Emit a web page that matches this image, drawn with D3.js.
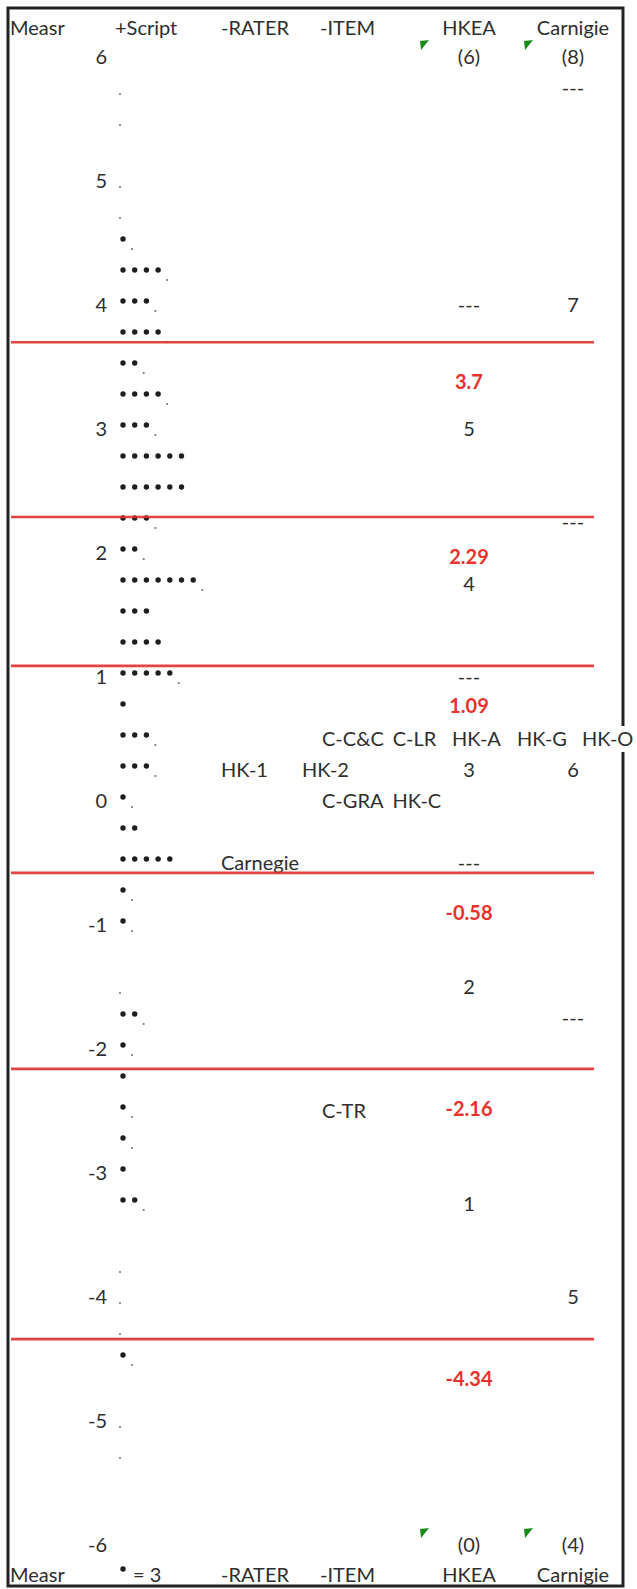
<!DOCTYPE html>
<html>
<head>
<meta charset="utf-8">
<script src="https://cdn.jsdelivr.net/npm/d3@7"></script>
<style>
  html, body { margin: 0; padding: 0; background: #fff; }
  svg { display: block; }
  text { font-family: Lato, "Open Sans", sans-serif; }
</style>
</head>
<body>
<svg id="map" width="637" height="1589"></svg>
<script>
// Wright map (FACETS vertical ruler): scripts, raters, items and the two rating scales

// measure axis tick labels
const measureTicks = [6, 5, 4, 3, 2, 1, 0, -1, -2, -3, -4, -5, -6];

// script distribution: measure of each ruler row and number of scripts in it (* = 3)
const scriptMeasure = [5.75, 5.5, 5, 4.75, 4.5, 4.25, 4, 3.75, 3.5, 3.25, 3, 2.75, 2.5, 2.25, 2,
  1.75, 1.5, 1.25, 1, 0.75, 0.5, 0.25, 0, -0.25, -0.5, -0.75, -1, -1.5, -1.75, -2,
  -2.25, -2.5, -2.75, -3, -3.25, -3.75, -4, -4.25, -4.5, -5, -5.25];
const scriptCount = [1, 1, 1, 1, 4, 13, 10, 13, 7, 13, 10, 18, 18, 10, 7,
  22, 9, 12, 16, 3, 10, 10, 4, 6, 15, 4, 4, 1, 7, 4,
  3, 4, 4, 3, 7, 1, 1, 1, 4, 1, 1];

// raters
const raterNames = ["HK-1", "HK-2", "Carnegie"];
const raterMeasure = [0.25, 0.25, -0.5];

// items
const itemNames = ["C-C&C", "C-LR", "HK-A", "HK-G", "HK-O", "C-GRA", "HK-C", "C-TR"];
const itemMeasure = [0.5, 0.5, 0.5, 0.5, 0.5, 0, 0, -2.5];

// HKEA rating scale: category labels, their rows, and threshold separators
const hkeaCats = ["(6)", "5", "4", "3", "2", "1", "(0)"];
const hkeaCatMeasure = [6, 3, 1.75, 0.25, -1.5, -3.25, -6];
const hkeaSepMeasure = [4, 1, -0.5];
// HKEA category thresholds (red lines)
const hkeaThresholds = [3.7, 2.29, 1.09, -0.58, -2.16, -4.34];

// Carnigie rating scale
const carnCats = ["(8)", "7", "6", "5", "(4)"];
const carnCatMeasure = [6, 4, 0.25, -4, -6];
const carnSepMeasure = [5.75, 2.25, -1.75];

// column headings
const headTop = ["Measr", "+Script", "-RATER", "-ITEM", "HKEA", "Carnigie"];
const headBottom = ["Measr", "= 3", "-RATER", "-ITEM", "HKEA", "Carnigie"];

const FS = 20;
const ink = "#2e2e2e";
const svg = d3.select("#map");

// vertical logit scale: each ruler row is a quarter logit
const y = d3.scaleLinear().domain([6, -6]).range([57, 1545]);
const BASE = 7; // baseline offset from a row's visual centre

// column anchors
const col = { measr: 107, script: 123, rater: 221, item: 322, hkea: 469, carn: 573 };
const starStep = 11.7;

// frame
svg.append("rect")
  .attr("x", 8).attr("y", 8).attr("width", 615).attr("height", 1578)
  .attr("fill", "#fff").attr("stroke", "#222").attr("stroke-width", 3);

// measure ruler numbers
svg.append("g").selectAll("text").data(measureTicks).join("text")
  .attr("x", col.measr).attr("y", d => y(d) + BASE)
  .attr("text-anchor", "end").attr("font-size", FS).attr("fill", ink)
  .text(d => d);

// scripts: one dot per 3 scripts, a small point for a remainder
const scripts = scriptMeasure.map((m, i) => ({ m, n: scriptCount[i] }));
const gS = svg.append("g");
scripts.forEach(r => {
  const stars = Math.floor(r.n / 3);
  gS.selectAll(null).data(d3.range(stars)).join("circle")
    .attr("cx", k => col.script + k * starStep)
    .attr("cy", y(r.m) - 4)
    .attr("r", 2.7).attr("fill", "#1e1e1e");
  if (r.n % 3 > 0) {
    gS.append("circle")
      .attr("cx", stars ? col.script + (stars - 1) * starStep + 9 : col.script - 3)
      .attr("cy", y(r.m) + 6)
      .attr("r", 1.1).attr("fill", "#777");
  }
});

// labels sharing a row sit in successive fixed-width slots, never overlapping
function slotRow(names, measures, x0, pitch, backed) {
  const g = svg.append("g");
  const rows = d3.group(names.map((n, i) => ({ n, m: measures[i] })), d => d.m);
  rows.forEach((list, m) => {
    let end = -Infinity;
    list.forEach((d, k) => {
      const x = Math.max(x0 + k * pitch, end + 9);
      const t = g.append("text")
        .attr("x", x).attr("y", y(m) + BASE)
        .attr("font-size", FS).attr("fill", ink).text(d.n);
      const w = t.node().getComputedTextLength();
      end = x + w;
      if (backed) {
        g.insert("rect", "text")
          .attr("x", x - 2).attr("y", y(m) - 13).attr("width", w + 4).attr("height", 26)
          .attr("fill", "#fff");
      }
    });
  });
}
slotRow(raterNames, raterMeasure, col.rater, 81, false);
slotRow(itemNames, itemMeasure, col.item, 65, true);

// rating scale columns
function scaleColumn(cx, cats, catM, sepM) {
  const g = svg.append("g").attr("font-size", FS).attr("fill", ink).attr("text-anchor", "middle");
  g.selectAll("text.cat").data(cats).join("text").attr("class", "cat")
    .attr("x", cx).attr("y", (d, i) => y(catM[i]) + BASE).text(d => d);
  g.selectAll("text.sep").data(sepM).join("text").attr("class", "sep")
    .attr("x", cx).attr("y", d => y(d) + BASE).text("---");
  // green marker at the extreme categories
  g.selectAll("path").data([catM[0], catM[catM.length - 1]]).join("path")
    .attr("d", d => {
      const x0 = cx - 49, y0 = y(d) - 16;
      return `M${x0},${y0}L${x0 + 9},${y0 - 1}L${x0 + 1},${y0 + 9}Z`;
    })
    .attr("fill", "#1a8a1a");
}
scaleColumn(col.hkea, hkeaCats, hkeaCatMeasure, hkeaSepMeasure);
scaleColumn(col.carn, carnCats, carnCatMeasure, carnSepMeasure);

// HKEA thresholds: red rules with their values
const gT = svg.append("g");
gT.selectAll("line").data(hkeaThresholds).join("line")
  .attr("x1", 11).attr("x2", 594)
  .attr("y1", d => y(d)).attr("y2", d => y(d))
  .attr("stroke", "#e0302c").attr("stroke-width", 2.6).attr("stroke-opacity", 0.9);
gT.selectAll("text").data(hkeaThresholds).join("text")
  .attr("x", col.hkea).attr("y", d => y(d) + 40 + BASE)
  .attr("text-anchor", "middle").attr("font-size", FS).attr("font-weight", 700)
  .attr("fill", "#e8322c").text(d => String(d));

// header and footer
const headX = [10, 115, col.rater, 320, col.hkea, col.carn];
const headAnchor = ["start", "start", "start", "start", "middle", "middle"];
svg.append("g").selectAll("text").data(headTop).join("text")
  .attr("x", (d, i) => headX[i]).attr("y", 35)
  .attr("text-anchor", (d, i) => headAnchor[i])
  .attr("font-size", FS).attr("fill", ink).text(d => d);
const footX = [10, 133, col.rater, 320, col.hkea, col.carn];
svg.append("g").selectAll("text").data(headBottom).join("text")
  .attr("x", (d, i) => footX[i]).attr("y", 1582)
  .attr("text-anchor", (d, i) => headAnchor[i])
  .attr("font-size", FS).attr("fill", ink).text(d => d);
// legend dot for "* = 3"
svg.append("circle").attr("cx", col.script).attr("cy", 1569).attr("r", 2.7).attr("fill", "#1e1e1e");
</script>
</body>
</html>
